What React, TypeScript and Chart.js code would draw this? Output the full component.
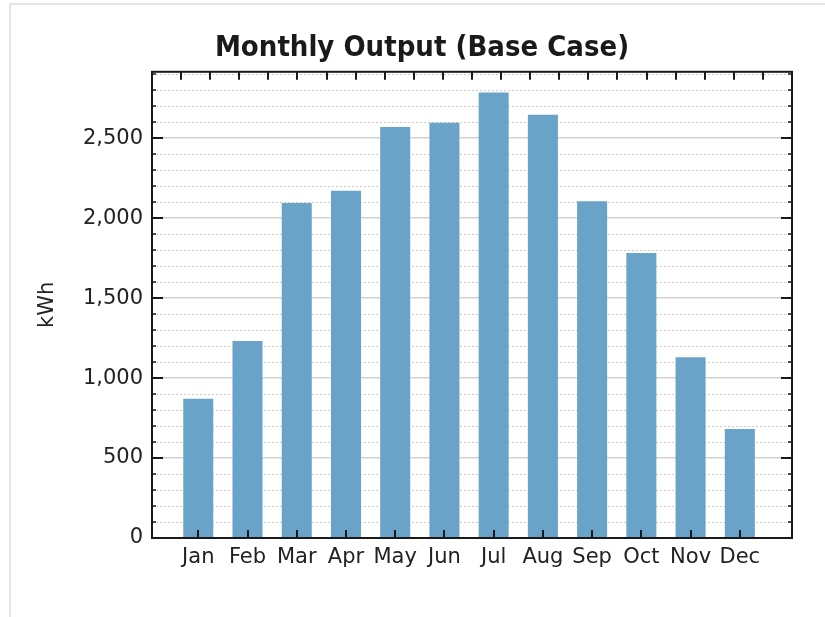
import { useEffect, useRef } from 'react';
import { Chart, registerables } from 'chart.js';

Chart.register(...registerables);

// Monthly energy output, base case
const months = ['Jan', 'Feb', 'Mar', 'Apr', 'May', 'Jun', 'Jul', 'Aug', 'Sep', 'Oct', 'Nov', 'Dec'];
const outputKwh = [870, 1232, 2095, 2172, 2570, 2597, 2786, 2647, 2105, 1782, 1130, 682];

// Axis settings
const yMin = 0;
const yMax = 2915;
const majorStep = 500;
const minorStep = 100;
const yTickValues = [0, 500, 1000, 1500, 2000, 2500];
const xMin = 0.06;
const xMax = 13.06;
const topDivisions = 22;

const FONT = "'DejaVu Sans', sans-serif";
const TITLE_FONT = "'DejaVu Sans Condensed', 'DejaVu Sans', sans-serif";
const INK = '#1a1a1a';
const LABEL = '#222222';

function line(ctx: CanvasRenderingContext2D, x1: number, y1: number, x2: number, y2: number) {
  ctx.beginPath();
  ctx.moveTo(x1, y1);
  ctx.lineTo(x2, y2);
  ctx.stroke();
}

// Dotted minor grid under the bars, framed plot box and inward tick marks on top
const framePlugin = {
  id: 'frameTicks',
  beforeDatasetsDraw(chart: any) {
    const { ctx, chartArea: a, scales } = chart;
    const y = scales.y;
    ctx.save();
    ctx.strokeStyle = '#cbcbcb';
    ctx.lineWidth = 1;
    ctx.setLineDash([2, 2]);
    for (let v = yMin + minorStep; v < yMax; v += minorStep) {
      if (v % majorStep === 0) continue;
      const py = Math.round(y.getPixelForValue(v)) + 0.5;
      line(ctx, a.left, py, a.right, py);
    }
    ctx.restore();
  },
  afterDatasetsDraw(chart: any) {
    const { ctx, chartArea: a, scales } = chart;
    const y = scales.y;
    const x = scales.x;
    const xt = scales.xTop;
    ctx.save();
    ctx.strokeStyle = INK;
    // y ticks on both sides
    for (let v = yMin; v < yMax; v += minorStep) {
      const py = Math.round(y.getPixelForValue(v));
      const major = v % majorStep === 0;
      const len = major ? 11 : 4;
      ctx.lineWidth = major ? 2 : 1.5;
      line(ctx, a.left, py, a.left + len, py);
      line(ctx, a.right, py, a.right - len, py);
    }
    // category ticks along the bottom
    ctx.lineWidth = 2;
    months.forEach((_, i) => {
      const px = Math.round(x.getPixelForValue(i + 1));
      line(ctx, px, a.bottom, px, a.bottom - 8);
    });
    // evenly spaced ticks along the top
    for (let k = 1; k < topDivisions; k++) {
      const px = Math.round(xt.getPixelForValue(k));
      line(ctx, px, a.top, px, a.top + 8);
    }
    // plot frame
    ctx.lineWidth = 2;
    ctx.strokeRect(a.left, a.top, a.right - a.left, a.bottom - a.top);
    ctx.restore();
  },
};

export default function App() {
  const canvasRef = useRef<HTMLCanvasElement | null>(null);

  useEffect(() => {
    const canvas = canvasRef.current;
    if (!canvas) return;
    const chart = new Chart(canvas, {
      type: 'bar',
      data: {
        datasets: [
          {
            label: 'kWh',
            data: months.map((_, i) => ({ x: i + 1, y: outputKwh[i] })),
            backgroundColor: '#6aa3c8',
            borderWidth: 0,
            barPercentage: 0.61,
            categoryPercentage: 1,
          },
        ],
      },
      options: {
        responsive: false,
        animation: false,
        events: [],
        layout: { padding: 0 },
        plugins: {
          legend: { display: false },
          tooltip: { enabled: false },
          title: {
            display: true,
            text: 'Monthly Output (Base Case)',
            color: INK,
            font: { family: TITLE_FONT, size: 29, weight: 'bold', lineHeight: 1.2 },
            padding: { top: 26, bottom: 6 },
          },
        },
        scales: {
          x: {
            type: 'linear',
            position: 'bottom',
            offset: false,
            min: xMin,
            max: xMax,
            afterBuildTicks: (s: any) => {
              s.ticks = months.map((_, i) => ({ value: i + 1 }));
            },
            afterFit: (s: any) => {
              s.height = 79;
            },
            grid: { display: false, drawTicks: false, offset: false },
            border: { display: false },
            ticks: {
              autoSkip: false,
              maxRotation: 0,
              padding: 7,
              color: LABEL,
              font: { family: FONT, size: 21 },
              callback: (v: any) => months[Number(v) - 1] ?? '',
            },
          },
          xTop: {
            type: 'linear',
            position: 'top',
            display: false,
            offset: false,
            min: 0,
            max: topDivisions,
          },
          y: {
            type: 'linear',
            position: 'left',
            min: yMin,
            max: yMax,
            afterBuildTicks: (s: any) => {
              s.ticks = yTickValues.map((v) => ({ value: v }));
            },
            afterFit: (s: any) => {
              s.width = 141;
            },
            grid: { color: '#d2d2d2', lineWidth: 1.5, drawTicks: false },
            border: { display: false },
            ticks: {
              autoSkip: false,
              padding: 9,
              color: LABEL,
              font: { family: FONT, size: 21 },
              callback: (v: any) => Number(v).toLocaleString('en-US'),
            },
            title: {
              display: true,
              text: 'kWh',
              color: LABEL,
              font: { family: FONT, size: 21 },
              padding: { top: 24, bottom: 0 },
            },
          },
          yRight: {
            type: 'linear',
            position: 'right',
            min: yMin,
            max: yMax,
            afterFit: (s: any) => {
              s.width = 41;
            },
            grid: { drawOnChartArea: false, drawTicks: false },
            border: { display: false },
            ticks: { display: false },
          },
        },
      },
      plugins: [framePlugin],
    });
    return () => chart.destroy();
  }, []);

  return (
    <div style={{ position: 'fixed', inset: 0, background: '#ffffff', overflow: 'hidden' }}>
      <div
        style={{
          position: 'absolute',
          left: 9,
          top: 3,
          width: 900,
          height: 700,
          borderLeft: '2px solid #e6e6e6',
          borderTop: '2px solid #e6e6e6',
        }}
      />
      <canvas
        ref={canvasRef}
        width={822}
        height={612}
        style={{ position: 'absolute', left: 11, top: 5, width: 822, height: 612 }}
      />
    </div>
  );
}
